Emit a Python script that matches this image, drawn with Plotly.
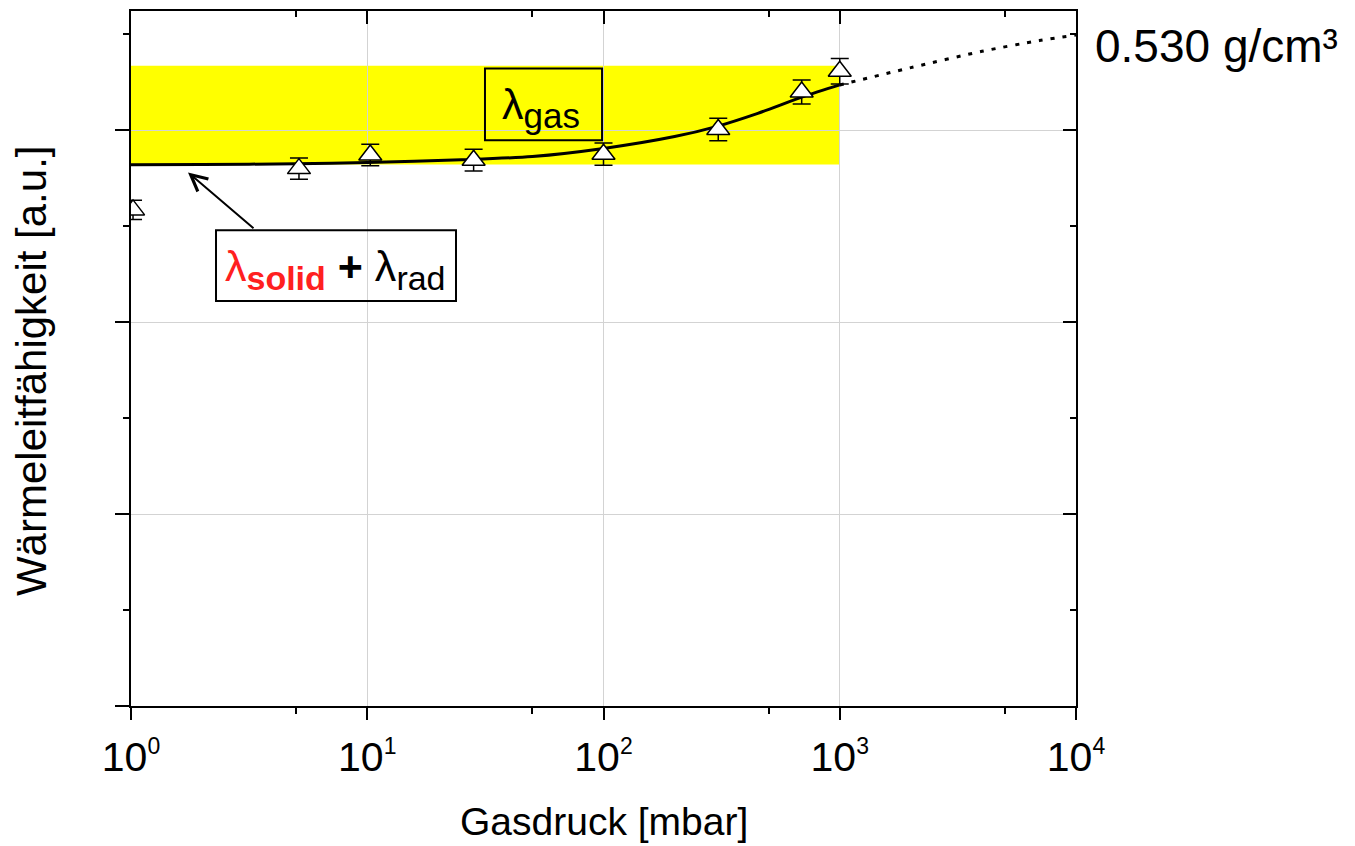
import plotly.graph_objects as go

# ---------------- data ----------------
# measured points (gas pressure [mbar], thermal conductivity [a.u.], error)
p_meas = [1.02, 5.14, 10.3, 28.2, 100, 306, 690, 1000]
lam_meas = [2.584, 2.799, 2.870, 2.843, 2.874, 3.003, 3.198, 3.306]
lam_err = [0.050, 0.055, 0.056, 0.057, 0.058, 0.059, 0.062, 0.066]

# fitted model curve (solid, measured range)
p_fit = [1, 2, 5, 10, 25, 50, 100, 200, 300, 450, 700, 1000]
lam_fit = [2.819, 2.821, 2.824, 2.831, 2.845, 2.862, 2.904, 2.966, 3.018, 3.087, 3.174, 3.235]

# extrapolation (dotted)
p_ext = [1000, 2000, 4000, 7000, 10000]
lam_ext = [3.235, 3.325, 3.410, 3.466, 3.495]

# yellow band (lambda_gas contribution)
band_p = [1, 1000]
band_lam = [2.821, 3.335]

x_tickvals = [1, 10, 100, 1000, 10000]
x_ticktext = ['10<sup><span style="font-size:23px">%d</span></sup>' % i for i in range(5)]
x_minor = [5, 50, 500, 5000]
y_tickvals = [0, 1, 2, 3]
y_minor = [0.5, 1.5, 2.5, 3.5]
Y_RANGE = [0, 3.62]
X_RANGE = [0, 4]  # log10 units

FONT = "Liberation Sans, Arial, sans-serif"
RED = "#FF2020"

fig = go.Figure()

# curve
fig.add_trace(go.Scatter(x=p_fit, y=lam_fit, mode="lines",
                         line=dict(color="black", width=3, shape="spline", smoothing=0.8),
                         showlegend=False, hoverinfo="skip"))
# measured points
fig.add_trace(go.Scatter(x=p_meas, y=lam_meas, mode="markers",
                         marker=dict(symbol="triangle-up", size=20, color="white",
                                     line=dict(color="black", width=1.5)),
                         error_y=dict(type="data", array=lam_err, visible=True,
                                      color="black", thickness=1.5, width=9),
                         showlegend=False))
# dotted extrapolation on overlay axes
fig.add_trace(go.Scatter(x=p_ext, y=lam_ext, mode="lines", xaxis="x2", yaxis="y2",
                         line=dict(color="black", width=3, dash="4px,8px",
                                   shape="spline", smoothing=0.8),
                         showlegend=False, hoverinfo="skip"))

# yellow band
fig.add_shape(type="rect", xref="x", yref="y", x0=band_p[0], x1=band_p[1],
              y0=band_lam[0], y1=band_lam[1], fillcolor="#FFFF00",
              line=dict(width=0), layer="below")

# lambda_gas box
fig.add_shape(type="rect", xref="x", yref="y", x0=31.5, x1=98.6, y0=2.947, y1=3.321,
              line=dict(color="black", width=2), fillcolor="rgba(0,0,0,0)", layer="above")
fig.add_annotation(x=1.7355, y=3.117, xref="x", yref="y", showarrow=False,
                   text='λ<sub><span style="font-size:35px">gas</span></sub>',
                   font=dict(family=FONT, size=43, color="black"))

# lambda_solid + lambda_rad box
fig.add_shape(type="rect", xref="x", yref="y", x0=2.29, x1=23.75, y0=2.109, y1=2.478,
              line=dict(color="black", width=2), fillcolor="rgba(0,0,0,0)", layer="above")
fig.add_annotation(x=0.8635, y=2.275, xref="x", yref="y", showarrow=False,
                   text=('<span style="color:%s">λ<sub><b><span style="font-size:34px">solid</span></b></sub></span>'
                         ' <b>+</b> λ<sub><span style="font-size:34px">rad</span></sub>') % RED,
                   font=dict(family=FONT, size=43, color="black"))
# arrow
fig.add_annotation(x=0.2413, y=2.779, xref="x", yref="y", text="", showarrow=True,
                   ax=67, ay=57, axref="pixel", ayref="pixel",
                   arrowhead=5, arrowsize=1.6, arrowwidth=2, arrowcolor="black",
                   standoff=0, startstandoff=0)

# density label
fig.add_annotation(x=1.018, y=0.95, xref="paper", yref="paper", xanchor="left",
                   yanchor="middle", showarrow=False, text="0.530 g/cm³",
                   font=dict(family=FONT, size=46, color="black"))

# axis titles
fig.add_annotation(x=0.5, y=-0.1664, xref="paper", yref="paper", showarrow=False,
                   xanchor="center", yanchor="middle", text="Gasdruck [mbar]",
                   font=dict(family=FONT, size=39, color="black"))
fig.add_annotation(x=-0.1058, y=0.482, xref="paper", yref="paper", showarrow=False,
                   xanchor="center", yanchor="middle", textangle=-90,
                   text="Wärmeleitfähigkeit [a.u.]",
                   font=dict(family=FONT, size=42, color="black"))

GRID = "#D3D3D3"
fig.update_layout(
    width=1355, height=846,
    margin=dict(l=131, r=279, t=9, b=140),
    paper_bgcolor="white", plot_bgcolor="white",
    font=dict(family=FONT, color="black"),
    showlegend=False,
    xaxis=dict(type="log", range=X_RANGE, tickmode="array", tickvals=x_tickvals,
               ticktext=x_ticktext, ticks="outside", ticklen=12, tickwidth=2,
               tickcolor="black", tickfont=dict(family=FONT, size=41, color="black"),
               ticklabelstandoff=2,
               showline=True, linewidth=2, linecolor="black", mirror=True,
               showgrid=True, gridcolor=GRID, gridwidth=1, zeroline=False,
               minor=dict(tickmode="array", tickvals=x_minor, ticks="outside",
                          ticklen=6, tickwidth=2, tickcolor="black", showgrid=False)),
    yaxis=dict(range=Y_RANGE, tickmode="array", tickvals=y_tickvals,
               ticks="outside", ticklen=14, tickwidth=2, tickcolor="black",
               showticklabels=False, showline=True, linewidth=2, linecolor="black",
               mirror=True, showgrid=True, gridcolor=GRID, gridwidth=1, zeroline=False,
               minor=dict(tickmode="array", tickvals=y_minor, ticks="outside",
                          ticklen=6, tickwidth=2, tickcolor="black", showgrid=False)),
    xaxis2=dict(type="log", range=X_RANGE, overlaying="x", side="top", anchor="y2",
                tickmode="array", tickvals=x_tickvals, ticks="inside", ticklen=13,
                tickwidth=2, tickcolor="black", showticklabels=False, showgrid=False,
                showline=False, zeroline=False,
                minor=dict(tickmode="array", tickvals=x_minor, ticks="inside",
                           ticklen=6, tickwidth=2, tickcolor="black", showgrid=False)),
    yaxis2=dict(range=Y_RANGE, overlaying="y", side="right", anchor="x2",
                tickmode="array", tickvals=y_tickvals, ticks="inside", ticklen=13,
                tickwidth=2, tickcolor="black", showticklabels=False, showgrid=False,
                showline=False, zeroline=False,
                minor=dict(tickmode="array", tickvals=y_minor, ticks="inside",
                           ticklen=6, tickwidth=2, tickcolor="black", showgrid=False)),
)

fig.write_html("out.html")
